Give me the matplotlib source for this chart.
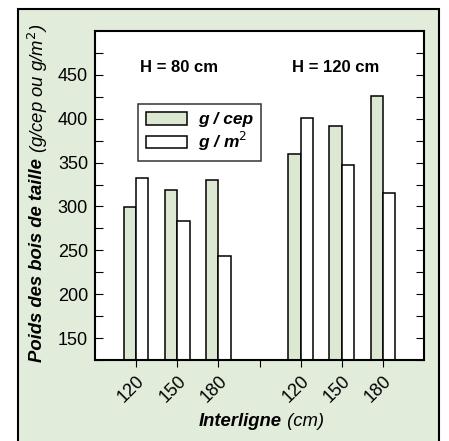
import matplotlib
matplotlib.use("Agg")
import matplotlib.pyplot as plt
from matplotlib.patches import Rectangle, Patch
import numpy as np

plt.rcParams['font.family'] = ['Liberation Sans', 'DejaVu Sans']

interligne = ['120', '150', '180', '120', '150', '180']
groups = ['H = 80 cm', 'H = 120 cm']
g_cep = [299, 319, 330, 360, 392, 426]
g_m2 = [332, 284, 244, 401, 347, 315]
positions = [1, 2, 3, 5, 6, 7]

green = '#dde8d3'
bg = '#e2ecda'

fig = plt.figure(figsize=(4.49, 4.41), dpi=100)
fig.patch.set_facecolor('white')
W, H = 449, 441
frame = Rectangle((18 / W, -0.05), (439 - 18) / W, 1.05 - 9 / H, transform=fig.transFigure,
                  facecolor=bg, edgecolor='black', linewidth=1.5, zorder=-10)
fig.patches.append(frame)

ax = fig.add_axes([95 / W, 1 - 360 / H, (424 - 95) / W, (360 - 31) / H])
ax.set_facecolor('white')
pos = np.array(positions, dtype=float)
w = 0.3
ax.bar(pos - w / 2, g_cep, width=w, bottom=0, color=green, edgecolor='black', linewidth=1.1)
ax.bar(pos + w / 2, g_m2, width=w, bottom=0, color='white', edgecolor='black', linewidth=1.1)

ax.set_xlim(0, 8)
ax.set_ylim(125, 500)
ax.set_yticks([150, 200, 250, 300, 350, 400, 450])
ax.set_yticks(np.arange(125, 500, 25), minor=True)
ax.tick_params(axis='y', which='both', direction='in', right=True, left=True, labelsize=13,
               length=6, width=0.8, pad=5)
ax.set_xticks(positions + [4])
ax.set_xticklabels(interligne + [''], rotation=45, ha='right', rotation_mode='anchor', va='top')
ax.tick_params(axis='x', direction='out', labelsize=13, length=5, width=0.8, pad=4)
for s in ax.spines.values():
    s.set_linewidth(1.5)

ax.text(2.05, 458, groups[0], ha='center', va='center', fontsize=12, fontweight='bold')
ax.text(5.85, 458, groups[1], ha='center', va='center', fontsize=12, fontweight='bold')

handles = [Patch(facecolor=green, edgecolor='black', linewidth=1.1),
           Patch(facecolor='white', edgecolor='black', linewidth=1.1)]
leg = ax.legend(handles, ['g / cep', 'g / m$^2$'], loc='upper left',
                bbox_to_anchor=((138 - 95) / 329, (360 - 104) / 329), borderaxespad=0,
                frameon=True, fancybox=False, edgecolor='black', handlelength=2.4, handleheight=0.75,
                borderpad=0.45, labelspacing=0.15, handletextpad=0.6,
                prop={'weight': 'bold', 'style': 'italic', 'size': 12.5})
leg.get_frame().set_linewidth(1.1)

# y label, two styles
t1 = fig.text(38 / W, 1 - 362 / H, 'Poids des bois de taille', rotation=90, ha='center', va='bottom',
              fontsize=13.3, fontweight='bold', style='italic')
fig.add_artist(matplotlib.text.Annotation(' (g/cep ou g/m$^2$)', xy=(0.5, 1), xycoords=t1, rotation=90,
                                          ha='center', va='bottom', fontsize=13.3, style='italic',
                                          annotation_clip=False))

# x label
t2 = fig.text(240 / W, 1 - 422 / H, 'Interligne', ha='center', va='center',
              fontsize=13.3, fontweight='bold', style='italic')
fig.add_artist(matplotlib.text.Annotation(' (cm)', xy=(1, 0), xycoords=t2, ha='left', va='bottom',
                                          fontsize=13.3, style='italic', annotation_clip=False))

fig.savefig('out.png', dpi=100, facecolor='white')
